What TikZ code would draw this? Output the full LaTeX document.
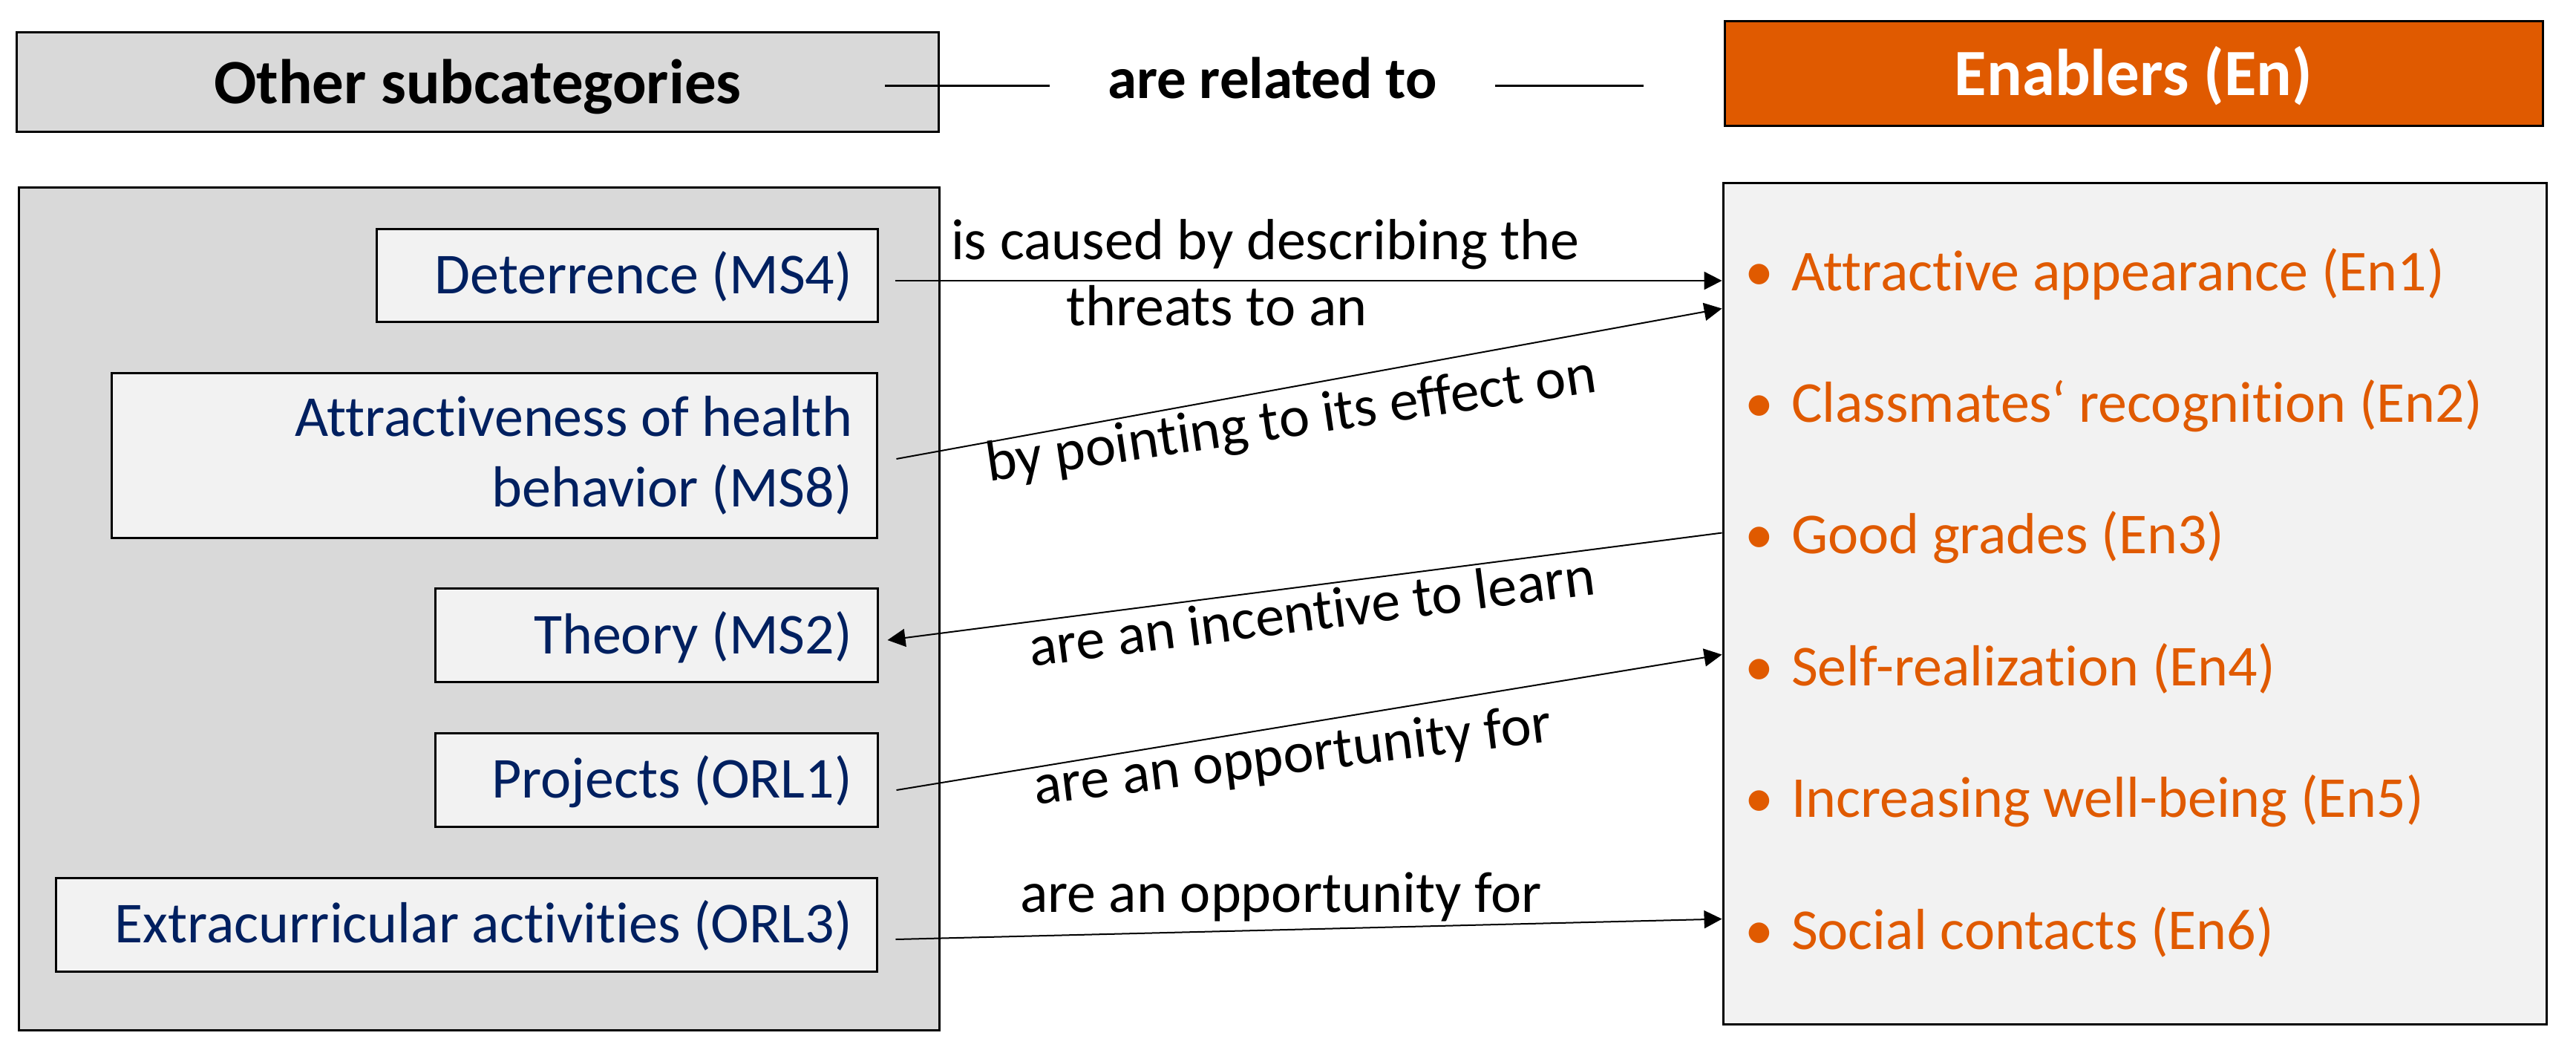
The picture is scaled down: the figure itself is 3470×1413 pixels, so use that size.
\documentclass[tikz,border=0pt]{standalone}
\usepackage{fontspec}
\setmainfont{Carlito}[Ligatures={TeX,NoCommon}]
\usetikzlibrary{arrows.meta,calc}
\definecolor{navy}{HTML}{002060}
\definecolor{enorange}{HTML}{E05A00}
\definecolor{midgray}{HTML}{D9D9D9}
\definecolor{lightgray}{HTML}{F2F2F2}
\begin{document}
\begin{tikzpicture}[x=0.1pt,y=-0.1pt,
  frame/.style={draw=black,line width=0.3pt},
  catbase/.style={frame,fill=lightgray,text=navy,font=\fontsize{7.8}{9.5}\selectfont,align=flush right,inner xsep=3.4pt,inner ysep=0pt,minimum height=12.6pt},
  catbox/.style={catbase,text height=4.9pt,text depth=0pt},
  head/.style={frame,font=\bfseries\fontsize{8.5}{10}\selectfont,text height=5.8pt,text depth=0pt,inner sep=0pt},
  lbl/.style={font=\fontsize{7.8}{9}\selectfont,inner sep=0pt,anchor=base west},
  item/.style={text=enorange,font=\fontsize{7.8}{9}\selectfont,inner sep=0pt,anchor=base west},
  conn/.style={line width=0.2pt,-{Triangle[length=2.4pt,width=2.4pt]}},
  rule/.style={line width=0.3pt}]

\useasboundingbox (0,0) rectangle (3470,1413);

% headings
\node[head,fill=midgray,minimum width=124.3pt,minimum height=13.4pt] (oth) at (643.5,111) {Other subcategories};
\node[head,fill=enorange,text=white,minimum width=110.2pt,minimum height=14.1pt,font=\bfseries\fontsize{8.9}{10}\selectfont] (enb) at (2874,99.5) {Enablers (En)};
\node[font=\bfseries\fontsize{7.9}{9}\selectfont,inner ysep=0pt,inner xsep=7.6pt,anchor=base] (rel) at (1714,133) {are related to};
\coordinate (ra) at ($(oth.east)+(-74,5)$);
\coordinate (rb) at ($(enb.west)+(-108,16.5)$);
\draw[rule] (ra) -- (ra -| rel.west);
\draw[rule] (rel.east |- rb) -- (rb);

% big boxes
\node[frame,fill=midgray,minimum width=124.1pt,minimum height=113.6pt,inner sep=0pt] (lbox) at (645.5,820) {};
\node[frame,fill=lightgray,minimum width=110.9pt,minimum height=113.4pt,inner sep=0pt] (rbox) at (2875.5,813) {};

% left category boxes
\node[catbox,text width=60.7pt] (ms4) at (844.5,371) {Deterrence (MS4)};
\node[catbase,text width=96.4pt,minimum height=22.2pt] (ms8) at (666,613) {Attractiveness of health\\behavior (MS8)};
\node[catbox,text width=52.8pt] (ms2) at (884,855.5) {Theory (MS2)};
\node[catbox,text width=52.8pt] (orl1) at (884,1050) {Projects (ORL1)};
\node[catbox,text width=103.9pt] (orl3) at (628.5,1245) {Extracurricular activities (ORL3)};

% enablers list
\node[item] (en1) at (2325,391) {\makebox[8.6pt][c]{\textbullet}Attractive appearance (En1)};
\node[item] (en2) at (2325,568.4) {\makebox[8.6pt][c]{\textbullet}Classmates‘ recognition (En2)};
\node[item] (en3) at (2325,745.8) {\makebox[8.6pt][c]{\textbullet}Good grades (En3)};
\node[item] (en4) at (2325,923.2) {\makebox[8.6pt][c]{\textbullet}Self-realization (En4)};
\node[item] (en5) at (2325,1100.6) {\makebox[8.6pt][c]{\textbullet}Increasing well-being (En5)};
\node[item] (en6) at (2325,1278) {\makebox[8.6pt][c]{\textbullet}Social contacts (En6)};

% connector ends
\coordinate (s1) at ($(ms4.east)+(22,7)$);
\coordinate (t1) at (rbox.west |- s1);
\coordinate (s2) at ($(ms8.east)+(24,5)$);
\coordinate (t2) at ($(rbox.north west)+(0,171)$);
\coordinate (s3) at ($(rbox.north west)+(0,473)$);
\coordinate (t3) at ($(ms2.east)+(12,6.5)$);
\coordinate (s4) at ($(orl1.east)+(24,14)$);
\coordinate (t4) at ($(rbox.north west)+(0,637)$);
\coordinate (s5) at ($(orl3.east)+(23,20)$);
\coordinate (t5) at ($(rbox.north west)+(0,993)$);

\draw[conn] (s1) -- (t1);
\draw[conn] (s2) -- (t2);
\draw[conn] (s3) -- (t3);
\draw[conn] (s4) -- (t4);
\draw[conn] (s5) -- (t5);

% labels
\node[lbl,align=flush left] (l1) at (1279,439) {is caused by describing the\\\hspace*{15.5pt}threats to an};
\node[lbl,rotate=8.4] (l2) at (1330,649) {by pointing to its effect on};
\node[lbl,rotate=7.3] (l3) at (1387,898) {are an incentive to learn};
\node[lbl,rotate=7.0] (l4) at (1393,1084) {are an opportunity for};
\node[lbl] (l5) at (1372,1228) {are an opportunity for};
\end{tikzpicture}
\end{document}
